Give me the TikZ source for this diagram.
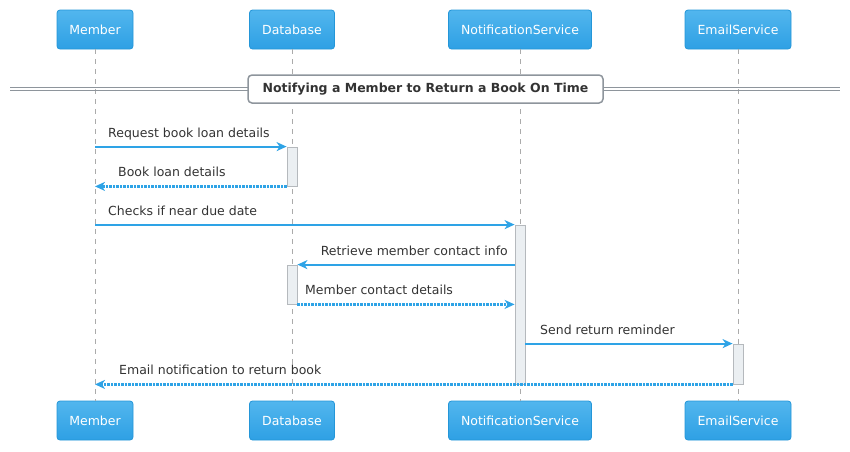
\documentclass[tikz,border=0pt]{standalone}
\usepackage{fontspec}
\setmainfont{DejaVu Sans}
\usetikzlibrary{arrows.meta}
\definecolor{ptop}{HTML}{52B6EE}
\definecolor{pbot}{HTML}{2EA0E4}
\definecolor{pborder}{HTML}{2496D8}
\definecolor{arrowc}{HTML}{2EA3E6}
\definecolor{actfill}{HTML}{EBEFF2}
\definecolor{actdraw}{HTML}{B5B9BD}
\definecolor{lifec}{HTML}{ABABAB}
\definecolor{divc}{HTML}{8E959C}
\definecolor{txt}{HTML}{333333}
\tikzset{
  participant/.style={rectangle, rounded corners=3pt, draw=pborder, line width=0.8pt,
    top color=ptop, bottom color=pbot, text=white, minimum height=39pt,
    font=\fontsize{12.5}{15}\selectfont, inner sep=0pt},
  lifeline/.style={draw=lifec, line width=0.8pt, dash pattern=on 5pt off 5pt},
  act/.style={rectangle, draw=actdraw, fill=actfill, line width=0.8pt, minimum width=10pt, inner sep=0pt},
  msg/.style={draw=arrowc, line width=2pt, -{Stealth[length=10pt,width=9pt,inset=3pt]}},
  ret/.style={msg, dash pattern=on 2.2pt off 1.3pt, line width=2.4pt},
  lbl/.style={anchor=base west, text=txt, font=\fontsize{12.5}{15}\selectfont, inner sep=0pt},
  lblr/.style={lbl, anchor=base east},
  divbox/.style={rectangle, rounded corners=4pt, draw=divc, line width=1.5pt, fill=white,
    minimum width=355pt, minimum height=28pt, text=txt, font=\fontsize{12.5}{15}\selectfont\bfseries, inner sep=0pt}
}
\begin{document}
\begin{tikzpicture}[x=1pt,y=-1pt]
\useasboundingbox (0,0) rectangle (850,451);
% participants
\node[participant, minimum width=76pt] (mt) at (95,29.5) {Member};
\node[participant, minimum width=85pt] (dt) at (292,29.5) {Database};
\node[participant, minimum width=143pt] (nt) at (520,29.5) {NotificationService};
\node[participant, minimum width=106pt] (et) at (738,29.5) {EmailService};
\node[participant, minimum width=76pt] (mb) at (95,420.5) {Member};
\node[participant, minimum width=85pt] (db) at (292,420.5) {Database};
\node[participant, minimum width=143pt] (nb) at (520,420.5) {NotificationService};
\node[participant, minimum width=106pt] (eb) at (738,420.5) {EmailService};
% lifelines
\draw[lifeline] (mt.south) -- (mb.north);
\draw[lifeline] (dt.south) -- (db.north);
\draw[lifeline] (nt.south) -- (nb.north);
\draw[lifeline] (et.south) -- (eb.north);
% divider
\coordinate (dl1) at (10,87); \coordinate (dr1) at (840,87);
\coordinate (dl2) at (10,90.5); \coordinate (dr2) at (840,90.5);
\draw[divc, line width=1pt] (dl1) -- (dr1);
\draw[divc, line width=1pt] (dl2) -- (dr2);
\node[divbox] (div) at (425.5,89) {Notifying a Member to Return a Book On Time};
% activations
\node[act, minimum height=39pt] (a1) at (292,166.5) {};
\node[act, minimum height=159pt] (a2) at (520,304.5) {};
\node[act, minimum height=39pt] (a3) at (292,284.5) {};
\node[act, minimum height=40pt] (a4) at (738,364) {};
% messages
\draw[msg] (mt |- a1.north west) -- (a1.north west);
\node[lbl] (l1) at (108,137) {Request book loan details};
\draw[ret] (a1.south west) -- (mt |- a1.south west);
\node[lbl] (l2) at (118,176) {Book loan details};
\draw[msg] (mt |- a2.north west) -- (a2.north west);
\node[lbl] (l3) at (108,215.5) {Checks if near due date};
\draw[msg] (a2.west |- a3.north east) -- (a3.north east);
\node[lblr] (l4) at (508,255) {Retrieve member contact info};
\draw[ret] (a3.south east) -- (a2.west |- a3.south east);
\node[lbl] (l5) at (305,294) {Member contact details};
\draw[msg] (a2.east |- a4.north west) -- (a4.north west);
\node[lbl] (l6) at (540,334) {Send return reminder};
\draw[ret] (a4.south west) -- (mt |- a4.south west);
\node[lbl] (l7) at (119,374) {Email notification to return book};
\end{tikzpicture}
\end{document}
